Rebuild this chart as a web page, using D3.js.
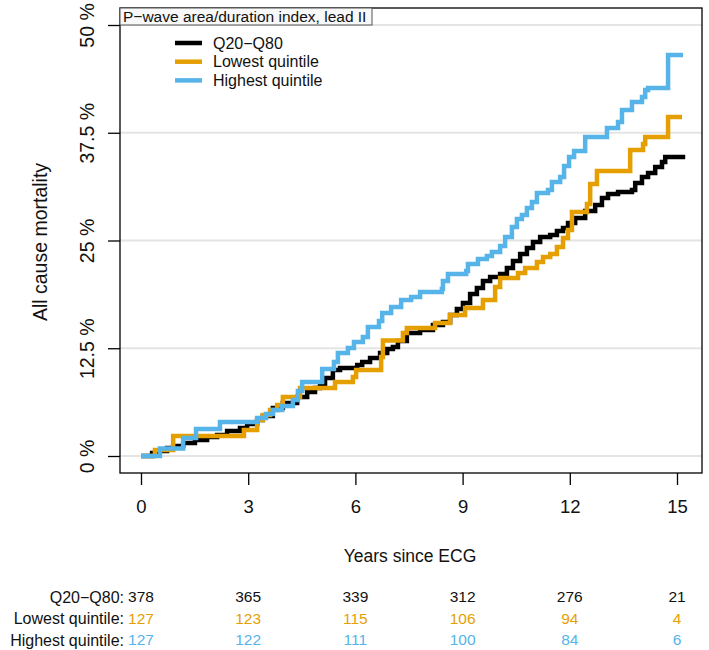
<!DOCTYPE html>
<html>
<head>
<meta charset="utf-8">
<script src="https://cdn.jsdelivr.net/npm/d3@7"></script>
<style>
  body { margin: 0; background: #ffffff; }
  text { font-family: "Liberation Sans", Arial, Helvetica, sans-serif; }
</style>
</head>
<body>
<div id="chart"></div>
<script>
// groups, colours
var groups = ["Q20\u2212Q80", "Lowest quintile", "Highest quintile"];
var colors = ["#000000", "#E69F00", "#56B4E9"];

// tick values
var yearTicks = [0, 3, 6, 9, 12, 15];
var pctTicks = [0, 12.5, 25, 37.5, 50];

// cumulative mortality (%), step times in years
var midTimes = [0, 0.31, 0.42, 0.73, 0.90, 1.18, 1.51, 1.85, 2.13, 2.41, 2.77, 2.97, 3.25, 3.41, 3.69, 3.97, 4.37, 4.65, 4.87, 5.01, 5.15, 5.37, 5.57, 6.05, 6.19, 6.41, 6.69, 6.89, 7.05, 7.19, 7.44, 7.81, 8.17, 8.45, 8.65, 8.84, 9.01, 9.21, 9.40, 9.57, 9.77, 10.05, 10.24, 10.41, 10.61, 10.80, 10.97, 11.17, 11.45, 11.64, 11.81, 11.95, 12.15, 12.43, 12.71, 12.90, 13.07, 13.35, 13.74, 13.83, 14.02, 14.19, 14.39, 14.58, 14.67, 15.23];
var midRisk = [0, 0.35, 0.58, 0.93, 1.16, 1.51, 1.86, 2.20, 2.44, 2.90, 3.25, 3.71, 4.18, 4.64, 5.57, 6.15, 6.84, 7.42, 7.89, 8.24, 9.05, 9.98, 10.21, 10.56, 10.90, 11.37, 11.95, 12.41, 12.65, 13.34, 14.27, 14.62, 15.20, 15.55, 16.36, 17.05, 17.75, 18.79, 19.49, 20.30, 20.77, 21.11, 21.81, 22.62, 23.43, 24.13, 24.83, 25.41, 25.64, 26.10, 26.45, 27.03, 27.61, 28.42, 29.12, 29.93, 30.39, 30.63, 30.86, 31.67, 32.37, 32.83, 33.53, 34.11, 34.69, 34.69];

var lowTimes = [0, 0.39, 0.90, 2.88, 3.25, 3.41, 3.61, 3.81, 3.97, 4.45, 5.43, 5.93, 6.02, 6.72, 6.77, 7.33, 7.44, 8.23, 8.65, 9.07, 9.57, 9.91, 10.05, 10.55, 10.75, 11.08, 11.25, 11.45, 11.64, 11.81, 11.95, 12.06, 12.48, 12.57, 12.76, 13.69, 14.05, 14.11, 14.75, 15.14];
var lowRisk = [0, 0.70, 2.32, 3.02, 4.18, 4.76, 5.34, 5.92, 6.84, 7.89, 8.58, 9.16, 9.98, 11.48, 13.40, 14.27, 14.85, 15.43, 16.36, 17.17, 18.10, 19.61, 20.65, 21.23, 21.81, 22.51, 23.09, 23.43, 24.25, 25.29, 26.22, 28.31, 29.23, 31.55, 33.06, 35.50, 36.19, 37.01, 39.33, 39.33];

var highTimes = [0, 0.53, 1.18, 1.54, 2.21, 3.25, 3.50, 3.69, 3.95, 4.25, 4.39, 4.51, 5.07, 5.40, 5.51, 5.79, 5.96, 6.21, 6.35, 6.66, 6.75, 7.00, 7.28, 7.56, 7.81, 8.42, 8.45, 8.59, 9.10, 9.15, 9.43, 9.68, 9.82, 10.05, 10.19, 10.38, 10.52, 10.66, 10.80, 10.94, 11.08, 11.39, 11.50, 11.73, 11.84, 11.98, 12.12, 12.43, 13.04, 13.35, 13.46, 13.74, 14.02, 14.11, 14.19, 14.75, 15.17];
var highRisk = [0, 0.87, 2.09, 3.13, 3.94, 4.41, 4.87, 5.34, 5.80, 6.50, 7.54, 8.58, 10.09, 10.90, 11.95, 12.53, 13.23, 13.81, 14.97, 15.66, 16.59, 17.29, 18.10, 18.45, 19.03, 19.37, 20.30, 21.11, 21.46, 22.27, 22.85, 23.20, 23.67, 24.36, 25.41, 26.57, 27.49, 27.96, 28.77, 29.47, 30.51, 30.86, 31.79, 32.37, 33.64, 34.69, 35.38, 37.01, 38.05, 38.75, 40.14, 41.07, 41.65, 42.46, 42.69, 46.52, 46.52];

// numbers at risk
var atRiskMid = [378, 365, 339, 312, 276, 21];
var atRiskLow = [127, 123, 115, 106, 94, 4];
var atRiskHigh = [127, 122, 111, 100, 84, 6];

var width = 709, height = 650;

var svg = d3.select("#chart")
    .append("svg")
    .attr("width", width)
    .attr("height", height);

var x = d3.scaleLinear().domain([0, 15]).range([141, 677]);
var y = d3.scaleLinear().domain([0, 50]).range([456, 25]);

var box = { left: 120, right: 702, top: 8, bottom: 473 };

// grid lines
svg.append("g")
    .selectAll("line")
    .data(pctTicks)
    .enter()
    .append("line")
    .attr("x1", box.left)
    .attr("x2", box.right)
    .attr("y1", function (d) { return y(d); })
    .attr("y2", function (d) { return y(d); })
    .attr("stroke", "#e4e4e4")
    .attr("stroke-width", 2);

// curves
var curves = [
    { times: midTimes, risk: midRisk },
    { times: lowTimes, risk: lowRisk },
    { times: highTimes, risk: highRisk }
];

var line = d3.line()
    .x(function (d) { return x(d[0]); })
    .y(function (d) { return y(d[1]); })
    .curve(d3.curveStepAfter);

curves.forEach(function (c, i) {
    var pts = c.times.map(function (t, j) { return [t, c.risk[j]]; });
    svg.append("path")
        .datum(pts)
        .attr("fill", "none")
        .attr("stroke", colors[i])
        .attr("stroke-width", 4.5)
        .attr("d", line);
});

// frame
svg.append("rect")
    .attr("x", box.left)
    .attr("y", box.top)
    .attr("width", box.right - box.left)
    .attr("height", box.bottom - box.top)
    .attr("fill", "none")
    .attr("stroke", "#000")
    .attr("stroke-width", 1.3);

// title strip
svg.append("rect")
    .attr("x", box.left)
    .attr("y", box.top)
    .attr("width", 252)
    .attr("height", 17)
    .attr("fill", "#f8f8f8")
    .attr("stroke", "#555")
    .attr("stroke-width", 1);

svg.append("text")
    .attr("x", 123)
    .attr("y", 22)
    .attr("font-size", 15.5)
    .attr("fill", "#111")
    .text("P\u2212wave area/duration index, lead II");

// legend
var legend = svg.append("g");
groups.forEach(function (g, i) {
    legend.append("line")
        .attr("x1", 175).attr("x2", 202)
        .attr("y1", 43 + i * 18.7).attr("y2", 43 + i * 18.7)
        .attr("stroke", colors[i])
        .attr("stroke-width", 4.5);
    legend.append("text")
        .attr("x", 213)
        .attr("y", 43 + i * 18.7)
        .attr("dy", "0.36em")
        .attr("font-size", 16)
        .attr("fill", "#111")
        .text(g);
});

// Add Y axis
var yAxis = svg.append("g")
    .attr("transform", "translate(" + box.left + ",0)")
    .call(d3.axisLeft(y).tickValues(pctTicks).tickSize(12)
        .tickFormat(function (d) { return d + " %"; }));
yAxis.select(".domain").remove();
yAxis.selectAll("line").attr("stroke", "#000").attr("stroke-width", 1.3);
yAxis.selectAll("text")
    .attr("transform", "rotate(-90)")
    .attr("x", 0)
    .attr("y", -26)
    .attr("dy", 0)
    .attr("text-anchor", "middle")
    .attr("font-size", 19.5)
    .attr("fill", "#111");

// Add X axis
var xAxis = svg.append("g")
    .attr("transform", "translate(0," + box.bottom + ")")
    .call(d3.axisBottom(x).tickValues(yearTicks).tickSize(12).tickPadding(15));
xAxis.select(".domain").remove();
xAxis.selectAll("line").attr("stroke", "#000").attr("stroke-width", 1.3);
xAxis.selectAll("text")
    .attr("font-size", 18.5)
    .attr("fill", "#111");

// axis titles
svg.append("text")
    .attr("transform", "translate(47,242) rotate(-90)")
    .attr("text-anchor", "middle")
    .attr("font-size", 19.5)
    .attr("fill", "#111")
    .text("All cause mortality");

svg.append("text")
    .attr("x", 410)
    .attr("y", 562)
    .attr("text-anchor", "middle")
    .attr("font-size", 17.5)
    .attr("fill", "#111")
    .text("Years since ECG");

// numbers at risk table
var rows = [atRiskMid, atRiskLow, atRiskHigh];
rows.forEach(function (r, i) {
    var ry = 597 + i * 21.5;
    svg.append("text")
        .attr("x", 124)
        .attr("y", ry)
        .attr("dy", "0.35em")
        .attr("text-anchor", "end")
        .attr("font-size", 16)
        .attr("fill", "#111")
        .text(groups[i] + ":");
    svg.append("g")
        .selectAll("text")
        .data(r)
        .enter()
        .append("text")
        .attr("x", function (d, j) { return x(yearTicks[j]); })
        .attr("y", ry)
        .attr("dy", "0.35em")
        .attr("text-anchor", "middle")
        .attr("font-size", 15.5)
        .attr("fill", i == 0 ? "#111" : colors[i])
        .text(function (d) { return d; });
});
</script>
</body>
</html>
